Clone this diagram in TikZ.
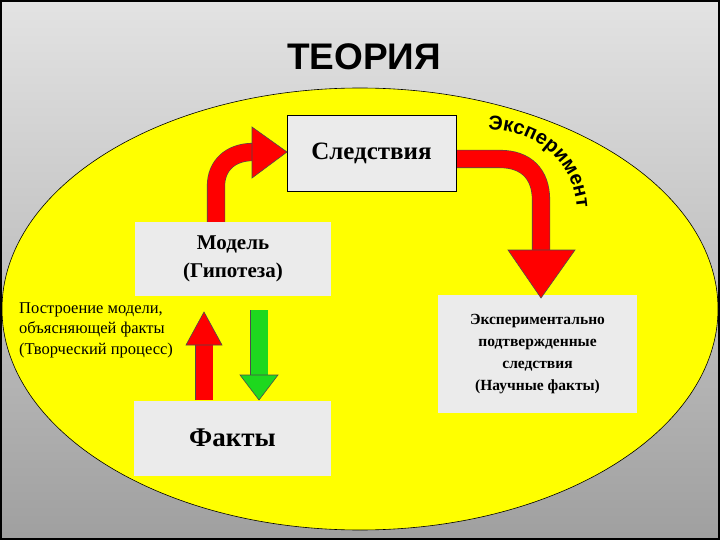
\documentclass[tikz,border=0pt]{standalone}
\usepackage{fontspec}
\setmainfont{Liberation Serif}
\newfontfamily\arialf{Liberation Sans}
\usetikzlibrary{decorations.text}
\definecolor{boxgray}{HTML}{EBEBEB}
\definecolor{myred}{HTML}{FF0000}
\definecolor{mygreen}{HTML}{1ED81E}
\definecolor{myyellow}{HTML}{FFFF00}
\tikzset{
  box/.style={fill=boxgray,inner sep=0pt,align=center},
  redshaft/.style={draw=black!70,line width=0.6pt,double=myred,double distance=17pt},
  greenshaft/.style={draw=black!70,line width=0.6pt,double=mygreen,double distance=17pt},
  head/.style={draw=black!70,line width=0.6pt,line join=miter}
}
\begin{document}
\begin{tikzpicture}[x=1pt,y=-1pt]
\useasboundingbox (0,0) rectangle (720,540);
\shade[top color=gray!22,bottom color=gray!75] (0,0) rectangle (720,540);
\draw[line width=2pt] (1,1) rectangle (719,539);
\node[font=\arialf\bfseries\fontsize{37}{37}\selectfont] (title) at (364,57) {ТЕОРИЯ};
\draw[fill=myyellow,line width=0.6pt] (360,309) ellipse [x radius=358,y radius=221];
% boxes
\node[box,draw=black,line width=0.6pt,minimum width=169pt,minimum height=76pt,font=\bfseries\fontsize{25}{28}\selectfont] (sl) at (371.5,153) {Следствия};
\node[box,minimum width=196pt,minimum height=74pt,font=\bfseries\fontsize{21}{28}\selectfont] (mod) at (233,259) {Модель\\(Гипотеза)};
\node[box,minimum width=197pt,minimum height=75pt,font=\bfseries\fontsize{27}{28}\selectfont] (fa) at (232.5,438) {Факты};
\node[box,minimum width=199pt,minimum height=118pt,font=\bfseries\fontsize{15.5}{22}\selectfont] (ex) at (537.5,354) {Экспериментально\\подтвержденные\\следствия\\(Научные факты)};
\node[align=left,anchor=north west,inner sep=0pt,font=\fontsize{16.5}{20.5}\selectfont] (lbl) at (19,302) {Построение модели,\\объясняющей факты\\(Творческий процесс)};
% left curved arrow
\coordinate (a1) at (216,222);
\coordinate (a2) at (253,152);
\draw[redshaft] (a1) -- (216,186) .. controls (216,166) and (230,152) .. (a2);
\draw[head,fill=myred] (252,127) -- (287,152) -- (252,178) -- cycle;
% right curved arrow
\coordinate (b1) at (457,159);
\coordinate (b2) at (541,251);
\draw[redshaft] (b1) -- (500,159) .. controls (526,159) and (541,174) .. (541,200) -- (b2);
\draw[head,fill=myred] (508,250) -- (575,250) -- (541,298) -- cycle;
% up red arrow
\coordinate (c1) at (204,400);
\draw[redshaft] (c1) -- (204,344);
\draw[head,fill=myred] (186,345) -- (204,312) -- (222,345) -- cycle;
% down green arrow
\coordinate (d1) at (259,310);
\draw[greenshaft] (d1) -- (259,376);
\draw[head,fill=mygreen] (240,375) -- (278,375) -- (259,400) -- cycle;
% curved label
\path[decorate,decoration={text along path,text align=center,
  text={|\arialf\bfseries\fontsize{20}{20}\selectfont|Эксперимент}}]
  (482,130) .. controls (536,128) and (577,162) .. (577,214);
\end{tikzpicture}
\end{document}
